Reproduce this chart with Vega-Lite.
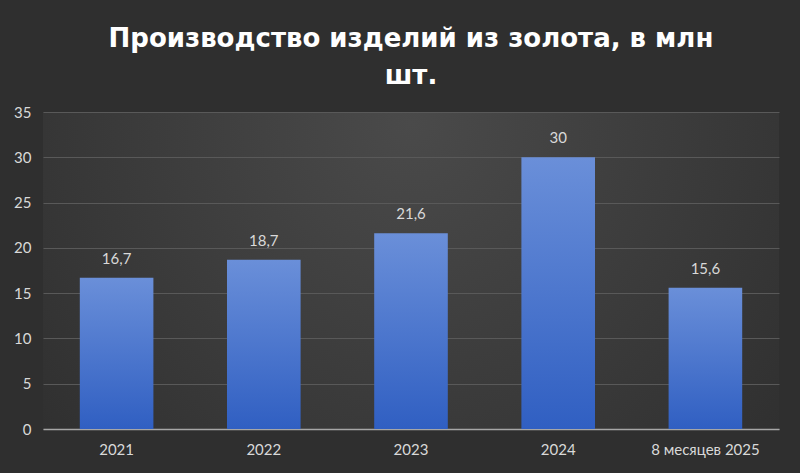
{
  "$schema": "https://vega.github.io/schema/vega-lite/v6.json",
  "width": 800,
  "height": 473,
  "autosize": {"type": "fit", "contains": "padding"},
  "padding": {"left": 13, "right": 21, "top": 26, "bottom": 16},
  "background": "#2f2f2f",
  "title": {
    "text": ["Производство изделий из золота, в млн", "шт."],
    "font": "DejaVu Sans",
    "fontSize": 26,
    "fontWeight": "bold",
    "color": "#ffffff",
    "lineHeight": 37,
    "offset": 16,
    "anchor": "middle",
    "frame": "group"
  },
  "view": {
    "stroke": null,
    "fill": {
      "gradient": "radial",
      "x1": 0.5, "y1": 0.3, "r1": 0,
      "x2": 0.5, "y2": 0.3, "r2": 0.8,
      "stops": [{"offset": 0, "color": "#4a4a4a"}, {"offset": 1, "color": "#2a2a2a"}]
    }
  },
  "config": {
    "locale": {"number": {"decimal": ",", "thousands": " ", "grouping": [3], "currency": ["", ""]}},
    "axis": {"labelFont": "Lato", "labelFontSize": 15, "labelColor": "#d9d9d9", "ticks": false, "title": null}
  },
  "data": {
    "values": [
      {"period": "2021", "value": 16.7},
      {"period": "2022", "value": 18.7},
      {"period": "2023", "value": 21.6},
      {"period": "2024", "value": 30},
      {"period": "8 месяцев 2025", "value": 15.6}
    ]
  },
  "encoding": {
    "x": {
      "field": "period",
      "type": "nominal",
      "sort": null,
      "scale": {"paddingInner": 0.5, "paddingOuter": 0.25},
      "axis": {"labelAngle": 0, "labelPadding": 13, "domainColor": "#a6a6a6", "domainWidth": 1.5, "grid": false}
    },
    "y": {
      "field": "value",
      "type": "quantitative",
      "scale": {"domain": [0, 35]},
      "axis": {"values": [0, 5, 10, 15, 20, 25, 30, 35], "domain": false, "gridColor": "#595959", "gridWidth": 1, "labelPadding": 12}
    }
  },
  "layer": [
    {
      "mark": {
        "type": "bar",
        "color": {
          "gradient": "linear",
          "x1": 0, "y1": 0, "x2": 0, "y2": 1,
          "stops": [{"offset": 0, "color": "#6a8fd9"}, {"offset": 1, "color": "#305fc2"}]
        }
      }
    },
    {
      "mark": {"type": "text", "dy": -19, "font": "Lato", "fontSize": 15, "color": "#d9d9d9"},
      "encoding": {"text": {"field": "value", "type": "quantitative", "format": ",.1~f"}}
    }
  ]
}
